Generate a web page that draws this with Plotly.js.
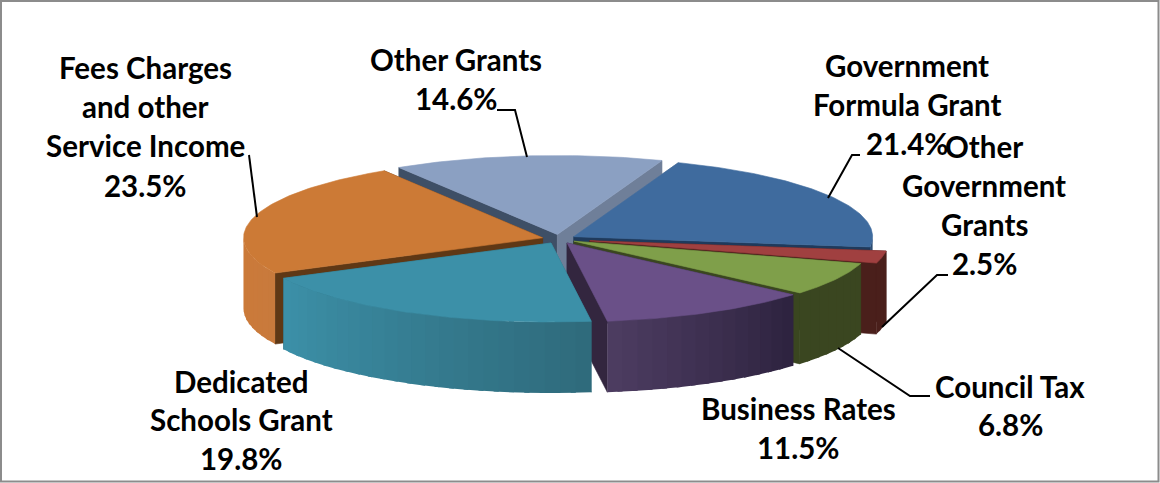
<!DOCTYPE html>
<html><head><meta charset="utf-8">
<script src="https://cdn.plot.ly/plotly-3.0.1.min.js"></script>
<style>html,body{margin:0;padding:0;background:#fff}#c{width:1160px;height:483px}</style>
</head><body><div id="c"></div>
<script>
// data, clockwise from the first slice
const categories = ["Government Formula Grant","Other Government Grants","Council Tax","Business Rates","Dedicated Schools Grant","Fees Charges and other Service Income","Other Grants"];
const shares = [21.4,2.5,6.8,11.5,19.8,23.5,14.6];
// styles
const topColors = ["#3f6b9e","#a04040","#7f9f4a","#6a5088","#3c90a8","#cc7a36","#8ba0c2"];
const rimLeft = ["#2a4a70","#4a1f1b","#3a4620","#4c3c60","#3c90a8","#cc7a38","#6f7f99"];
const rimRight = ["#2a4a70","#4a1f1b","#3a4620","#2e2340","#2f6b7c","#c87a3c","#6f7f99"];
const startWall = ["#6f7f99","#4a1f1b","#3a4620","#33263f","#2f6b7c","#5f3815","#3e4f66"];
const endWall = ["#1f3a5c","#4a1f1b","#3a4620","#33263f","#2f6b7c","#5f3815","#6f7f99"];
const explode = [0.057,0.105,0.057,0.057,0.057,0.057,0.057];
const drawOrder = [6,0,1,2,3,5,4];
const firstAngle = 20.5, rx = 299, ry = 79, depth = 71, cx0 = 559, cy0 = 239;
// labels: text, centre x, centre y
const labelText = ["Other Grants","14.6%","Fees Charges","and other","Service Income","23.5%","Government","Formula Grant","21.4%","Other","Government","Grants","2.5%","Council Tax","6.8%","Business Rates","11.5%","Dedicated","Schools Grant","19.8%"];
const labelX = [456,456,145,145,145,145,907,907,907,984,984,984,984,1010,1010,798,798,241,241,241];
const labelY = [59,98,67,106,145,185,65,104,143,146,185,224,263,386,424,408,447,381,419,458];
const leaders = ["M497,110 L515,110 L527,157","M249,155 L257,217","M860,155 L852,155 L828,198","M948,275 L937,275 L882,327","M838,348 L910,396 L930,396"];

const rad = d => d*Math.PI/180;
const hex = c => [1,3,5].map(i=>parseInt(c.substr(i,2),16));
const mix = (a,b,f) => { const A=hex(a),B=hex(b); return "rgb("+A.map((v,i)=>Math.round(v+(B[i]-v)*f)).join(",")+")"; };
const total = shares.reduce((a,b)=>a+b,0);
let acc = firstAngle;
const slices = shares.map((s,i)=>{ const a0=acc, a1=acc+s/total*360; acc=a1;
  const mid=(a0+a1)/2;
  return {i,a0,a1,cx:cx0+explode[i]*rx*Math.sin(rad(mid)),cy:cy0-explode[i]*ry*Math.cos(rad(mid))}; });
const px = (s,t) => s.cx+rx*Math.sin(rad(t));
const py = (s,t) => s.cy-ry*Math.cos(rad(t));
const poly = (xs,ys,color,name,hover,lw) => ({type:"scatter",mode:"lines",x:xs.concat(xs[0]),y:ys.concat(ys[0]),fill:"toself",fillcolor:color,
  line:{color:color,width:lw===undefined?0.6:lw},name:name,showlegend:false,hoverinfo:hover?"text":"skip",text:hover?hover:undefined,hoveron:"fills"});
const traces = [];
drawOrder.forEach(i=>{ const s=slices[i], name=categories[i];
  // cut faces
  [[s.a0,startWall[i]],[s.a1,endWall[i]]].forEach(([t,c])=>{
    traces.push(poly([s.cx,px(s,t),px(s,t),s.cx],[s.cy,py(s,t),py(s,t)+depth,s.cy+depth],c,name));
  });
  // outer wall, front half only, in shaded bands that overlap the next one
  const lo=Math.max(s.a0,90), hi=Math.min(s.a1,270);
  if(hi>lo){ const n=Math.max(1,Math.round((hi-lo)/3));
    for(let k=0;k<n;k++){ const t0=lo+(hi-lo)*k/n, t1=Math.min(hi,lo+(hi-lo)*(k+1)/n+1), xs=[],ys=[],xb=[],yb=[];
      for(let j=0;j<=4;j++){ const t=t0+(t1-t0)*j/4; xs.push(px(s,t)); ys.push(py(s,t)); xb.unshift(px(s,t)); yb.unshift(py(s,t)+depth); }
      traces.push(poly(xs.concat(xb),ys.concat(yb),mix(rimRight[i],rimLeft[i],n>1?k/(n-1):0),name,null,0));
    }
  }
  // top face
  const xs=[s.cx],ys=[s.cy];
  for(let t=s.a0;t<s.a1;t+=1){xs.push(px(s,t));ys.push(py(s,t));}
  xs.push(px(s,s.a1));ys.push(py(s,s.a1));
  traces.push(poly(xs,ys,topColors[i],name,name+": "+shares[i].toFixed(1)+"%"));
});
const layout = {
  width:1160,height:483,margin:{l:0,r:0,t:0,b:0},paper_bgcolor:"#fff",plot_bgcolor:"#fff",showlegend:false,
  xaxis:{range:[0,1160],visible:false,fixedrange:true},
  yaxis:{range:[483,0],visible:false,fixedrange:true},
  shapes:[{type:"rect",xref:"x",yref:"y",x0:1,y0:1,x1:1158.5,y1:481.5,line:{color:"#8c8c8c",width:2}}]
    .concat(leaders.map(p=>({type:"path",xref:"x",yref:"y",path:p,line:{color:"#000",width:2}}))),
  annotations:labelText.map((t,i)=>({text:"<b>"+t+"</b>",x:labelX[i],y:labelY[i],xref:"x",yref:"y",showarrow:false,xanchor:"center",yanchor:"middle",
    font:{family:"Lato, 'Noto Sans', sans-serif",size:29.5,color:"#000"}}))
};
Plotly.newPlot("c",traces,layout,{displayModeBar:false,staticPlot:false});
</script></body></html>
